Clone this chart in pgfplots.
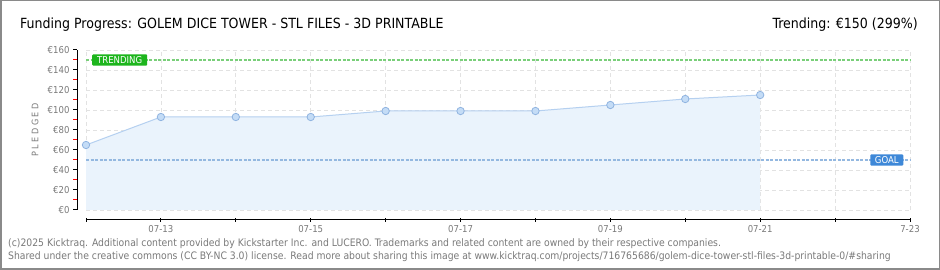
\documentclass[border=0pt]{standalone}
\usepackage{pgfplots}
\pgfplotsset{compat=1.18}
\usepackage{fontspec}
\setmainfont{DejaVu Sans Condensed}
\definecolor{areablue}{HTML}{EAF3FC}
\definecolor{lineblue}{HTML}{B5D0F0}
\definecolor{markfill}{HTML}{C4DCF6}
\definecolor{markdraw}{HTML}{8FB3E0}
\definecolor{trendline}{HTML}{7ACF7A}
\definecolor{trendbox}{HTML}{1DB51D}
\definecolor{goalline}{HTML}{94B8E0}
\definecolor{goalbox}{HTML}{3E88D8}
\definecolor{gridgray}{HTML}{E2E2E2}
\definecolor{ticgray}{HTML}{7A7A7A}
\definecolor{framegray}{HTML}{8A8A8A}
\begin{document}
\begin{tikzpicture}[x=1pt,y=1pt]
\useasboundingbox (0,0) rectangle (940,270);
\fill[white] (0,0) rectangle (940,270);
\draw[framegray, line width=1.5pt] (0.75,0.75) rectangle (939.25,269.25);
\node[anchor=base west, font=\fontsize{14}{16}\selectfont, inner sep=0] at (20,241) {Funding Progress: GOLEM DICE TOWER - STL FILES - 3D PRINTABLE};
\node[anchor=base east, font=\fontsize{14}{16}\selectfont, inner sep=0] at (918,241) {Trending: €150 (299\%)};
\node[anchor=base west, font=\fontsize{10.3}{11}\selectfont, text=ticgray, inner sep=0] at (8,23) {(c)2025 Kicktraq. Additional content provided by Kickstarter Inc. and LUCERO. Trademarks and related content are owned by their respective companies.};
\node[anchor=base west, font=\fontsize{10.3}{11}\selectfont, text=ticgray, inner sep=0] at (8,10) {Shared under the creative commons (CC BY-NC 3.0) license. Read more about sharing this image at www.kicktraq.com/projects/716765686/golem-dice-tower-stl-files-3d-printable-0/\#sharing};
\node[rotate=90, font=\fontsize{9}{10}\selectfont, text=ticgray, inner sep=0] at (35,140) {P L E D G E D};
\begin{axis}[
  at={(86pt,60pt)}, anchor=south west,
  scale only axis, width=824pt, height=160pt,
  xmin=0, xmax=11, ymin=0, ymax=160,
  axis x line=bottom, axis y line=left,
  axis x line shift=10pt, axis y line shift=9pt,
  axis line style={-, black, line width=1pt},
  xtick={0,...,11},
  xticklabels={,07-13,,07-15,,07-17,,07-19,,07-21,,7-23},
  ytick={0,20,...,160},
  minor ytick={10,30,...,150},
  /pgf/number format/assume math mode=true,
  yticklabel={€\pgfmathprintnumber{\tick}},
  tick label style={font=\fontsize{9.5}{10}\selectfont, text=ticgray},
  major tick length=4pt, minor tick length=4pt,
  xtick align=center, ytick align=outside,
  major tick style={black, line width=1pt},
  minor y tick style={red, line width=1pt},
  grid=major,
  grid style={gridgray, dash pattern=on 4pt off 3pt, line width=0.8pt},
  clip=false,
]
\addplot[fill=areablue, draw=none] coordinates {(0,65)(1,93)(2,93)(3,93)(4,99)(5,99)(6,99)(7,105)(8,111)(9,115)} \closedcycle;
\addplot[trendline, line width=2.5pt, dash pattern=on 3pt off 1.5pt] coordinates {(0,150)(11,150)};
\addplot[goalline, line width=2.5pt, dash pattern=on 3pt off 1.5pt] coordinates {(0,50)(11,50)};
\addplot[lineblue, line width=1pt, mark=*, mark size=3.7pt, mark options={fill=markfill, draw=markdraw, line width=0.8pt}] coordinates {(0,65)(1,93)(2,93)(3,93)(4,99)(5,99)(6,99)(7,105)(8,111)(9,115)};
\node[fill=trendbox, text=white, font=\fontsize{9.5}{10}\selectfont, rounded corners=1pt, inner xsep=3pt, inner ysep=2pt, minimum width=55pt] at (axis cs:0.45,150) {TRENDING};
\node[fill=goalbox, text=white, font=\fontsize{9.5}{10}\selectfont, rounded corners=1pt, inner xsep=3pt, inner ysep=2pt, minimum width=33pt] at (axis cs:10.69,50) {GOAL};
\end{axis}
\end{tikzpicture}
\end{document}
